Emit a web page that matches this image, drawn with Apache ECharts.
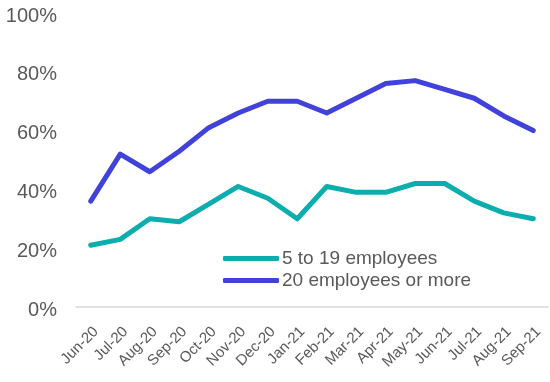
<!DOCTYPE html>
<html>
<head>
<meta charset="utf-8">
<script src="https://cdn.jsdelivr.net/npm/echarts@6/dist/echarts.min.js"></script>
<style>
  html, body { margin: 0; padding: 0; background: #fff; }
  #chart { width: 550px; height: 382px; }
</style>
</head>
<body>
<div id="chart"></div>
<script>
// Monthly categories
const months = ['Jun-20', 'Jul-20', 'Aug-20', 'Sep-20', 'Oct-20', 'Nov-20', 'Dec-20', 'Jan-21',
  'Feb-21', 'Mar-21', 'Apr-21', 'May-21', 'Jun-21', 'Jul-21', 'Aug-21', 'Sep-21'];

// Share of businesses (%) by size band
const small = [21, 23, 30, 29, 35, 41, 37, 30, 41, 39, 39, 42, 42, 36, 32, 30];
const large = [36, 52, 46, 53, 61, 66, 70, 70, 66, 71, 76, 77, 74, 71, 65, 60];

const seriesNames = ['5 to 19 employees', '20 employees or more'];
const yTicks = [0, 20, 40, 60, 80, 100];

const font = '"Liberation Sans", Arial, sans-serif';
const chart = echarts.init(document.getElementById('chart'), null, { renderer: 'canvas' });

chart.setOption({
  animation: false,
  textStyle: { fontFamily: font },
  grid: { left: 76, right: 2, top: 13, bottom: 75 },
  legend: {
    orient: 'vertical',
    left: 223,
    top: 249,
    padding: 0,
    itemWidth: 56,
    itemHeight: 5,
    itemGap: 3,
    icon: 'roundRect',
    textStyle: { fontFamily: font, fontSize: 19, color: '#595959', padding: [0, 0, 0, -2], lineHeight: 19 },
    data: seriesNames
  },
  xAxis: {
    type: 'category',
    data: months,
    boundaryGap: true,
    axisLine: { lineStyle: { color: '#D9D9D9', width: 1.5 } },
    axisTick: { show: false },
    axisLabel: {
      rotate: 45, color: '#595959', fontSize: 15, fontFamily: font,
      margin: 17, align: 'right', verticalAlign: 'top', interval: 0
    }
  },
  yAxis: {
    type: 'value',
    min: yTicks[0],
    max: yTicks[yTicks.length - 1],
    interval: 20,
    splitLine: { show: false },
    axisLine: { show: false },
    axisTick: { show: false },
    axisLabel: {
      formatter: '{value}%', color: '#595959', fontSize: 20, fontFamily: font,
      margin: 19, verticalAlign: 'top', lineHeight: 6
    }
  },
  series: [
    {
      name: seriesNames[0],
      type: 'line',
      data: small,
      symbol: 'none',
      color: '#0BADAD',
      lineStyle: { width: 5, color: '#0BADAD', cap: 'round', join: 'round' }
    },
    {
      name: seriesNames[1],
      type: 'line',
      data: large,
      symbol: 'none',
      color: '#4141DC',
      lineStyle: { width: 5, color: '#4141DC', cap: 'round', join: 'round' }
    }
  ]
});
</script>
</body>
</html>
